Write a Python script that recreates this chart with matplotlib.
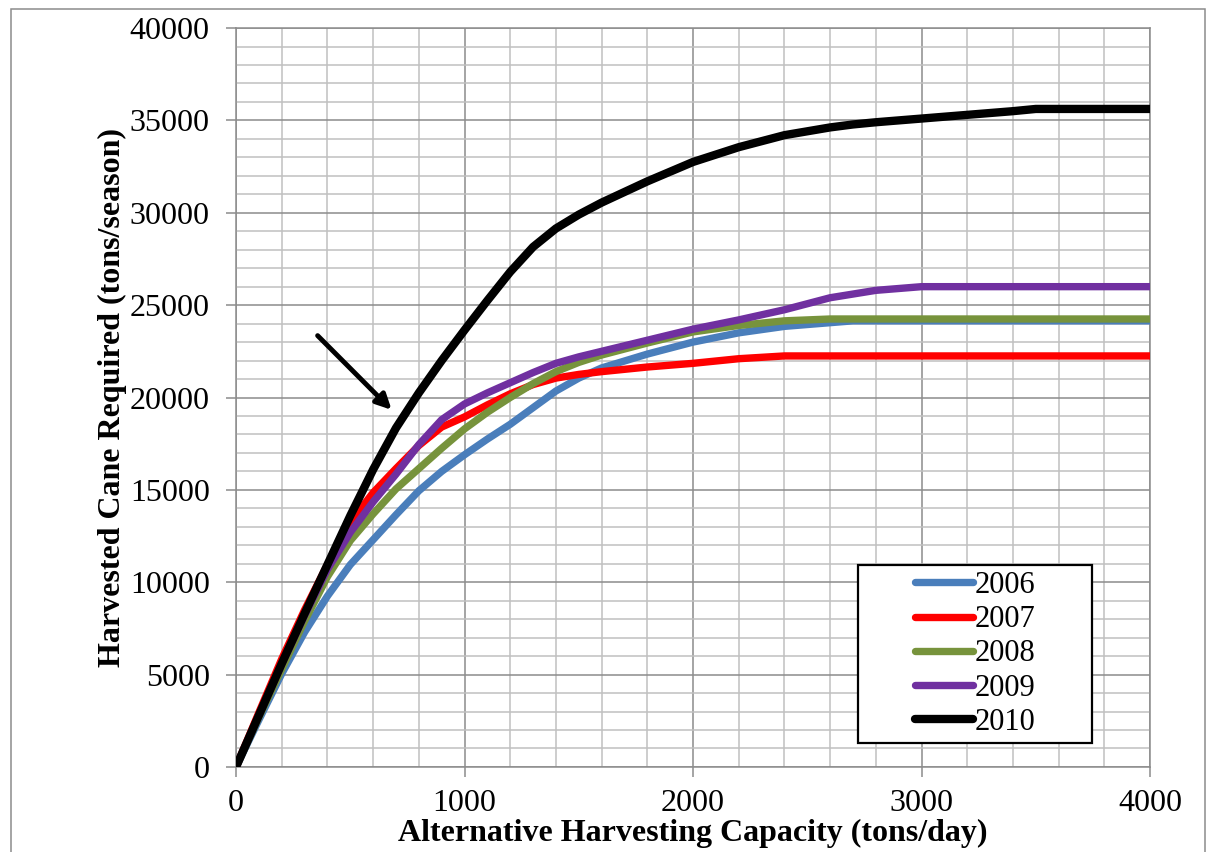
import matplotlib
matplotlib.use('Agg')
import matplotlib.pyplot as plt
from matplotlib.patches import Rectangle
from matplotlib.lines import Line2D
from matplotlib.ticker import MultipleLocator

plt.rcParams['font.family'] = ['Liberation Serif', 'DejaVu Serif']

# capacity (tons/day)
capacity = [0, 100, 200, 300, 400, 500, 600, 700, 800, 900, 1000, 1100, 1200, 1300, 1400,
            1500, 1600, 1800, 2000, 2200, 2400, 2600, 2700, 2800, 3000, 3200, 3400, 3500,
            3600, 3800, 4000]

cane_2006 = [0, 2550, 5050, 7300, 9250, 10950, 12300, 13650, 14950, 16000, 16900, 17750,
             18550, 19450, 20350, 21050, 21600, 22350, 23000, 23500, 23850, 24050, 24150,
             24150, 24150, 24150, 24150, 24150, 24150, 24150, 24150]
cane_2007 = [0, 2950, 5850, 8500, 10950, 13250, 14850, 16150, 17400, 18400, 18950, 19600,
             20200, 20700, 21050, 21250, 21400, 21650, 21850, 22100, 22250, 22250, 22250,
             22250, 22250, 22250, 22250, 22250, 22250, 22250, 22250]
cane_2008 = [0, 2700, 5300, 7900, 10300, 12250, 13700, 15050, 16150, 17250, 18300, 19200,
             20000, 20750, 21400, 21900, 22300, 22950, 23550, 23900, 24150, 24250, 24250,
             24250, 24250, 24250, 24250, 24250, 24250, 24250, 24250]
cane_2009 = [0, 2800, 5550, 8200, 10700, 12700, 14350, 15850, 17450, 18800, 19650, 20250,
             20800, 21350, 21850, 22200, 22500, 23100, 23700, 24200, 24750, 25400, 25600,
             25800, 26000, 26000, 26000, 26000, 26000, 26000, 26000]
cane_2010 = [0, 2800, 5600, 8300, 10950, 13600, 16100, 18350, 20250, 22000, 23650, 25250,
             26800, 28150, 29150, 29900, 30550, 31700, 32750, 33550, 34200, 34620, 34780,
             34900, 35100, 35300, 35500, 35620, 35620, 35620, 35620]

series = [
    ("2006", cane_2006, "#4A7EBB", 5.3),
    ("2007", cane_2007, "#FF0000", 5.3),
    ("2008", cane_2008, "#77933C", 5.3),
    ("2009", cane_2009, "#7030A0", 5.3),
    ("2010", cane_2010, "#000000", 6.0),
]

# arrow pointing at the 2010 curve (data coords)
arrow_tail = (357, 23350)
arrow_head = (681, 19330)

fig = plt.figure(figsize=(12.08, 8.52), dpi=100)
ax = fig.add_axes([0.1954, 0.0998, 0.7566, 0.8673])

for label, vals, color, lw in series:
    ax.plot(capacity, vals, color=color, lw=lw, solid_capstyle='round',
            solid_joinstyle='round', label=label, zorder=3)

ax.set_xlim(0, 4000)
ax.set_ylim(0, 40000)
ax.xaxis.set_major_locator(MultipleLocator(1000))
ax.xaxis.set_minor_locator(MultipleLocator(200))
ax.yaxis.set_major_locator(MultipleLocator(5000))
ax.yaxis.set_minor_locator(MultipleLocator(1000))

ax.grid(which='minor', color='#C0C0C0', lw=1.1, zorder=0)
ax.grid(which='major', color='#8C8C8C', lw=1.1, zorder=1)
ax.set_axisbelow(True)
for s in ax.spines.values():
    s.set_color('#8C8C8C')
    s.set_linewidth(1.1)

ax.tick_params(which='major', direction='out', length=7, width=1.1, color='#8C8C8C',
               labelsize=23, pad=9)
ax.tick_params(axis='y', which='major', pad=12)
ax.tick_params(which='minor', length=0)

ax.set_xlabel("Alternative Harvesting Capacity (tons/day)", fontsize=23, fontweight='bold')
ax.set_ylabel("Harvested Cane Required (tons/season)", fontsize=23, fontweight='bold')
ax.xaxis.set_label_coords(0.5, -0.07)
ax.yaxis.set_label_coords(-0.119, 0.5)

ax.annotate("", xy=arrow_head, xytext=arrow_tail,
            arrowprops=dict(arrowstyle='-|>,head_length=0.9,head_width=0.45',
                            color='black', lw=3.5, shrinkA=0, shrinkB=0), zorder=5)

# legend box
box = Rectangle((0.6805, 0.0325), 0.256, 0.2408, transform=ax.transAxes,
                facecolor='white', edgecolor='black', lw=1.6, zorder=6)
ax.add_patch(box)
handles = [Line2D([0], [0], color=c, lw=lw, solid_capstyle='round') for _, _, c, lw in series]
leg = ax.legend(handles, [s[0] for s in series], loc='center',
                bbox_to_anchor=(0.6805 + 0.128, 0.0325 + 0.1204), frameon=False,
                fontsize=22, handlelength=1.9, handletextpad=0.05, labelspacing=0.17,
                borderpad=0.1)
leg.set_zorder(7)

# outer frame of the figure
fig.add_artist(Rectangle((11 / 1208, -0.01), 1194 / 1208, 1 - 9 / 852 + 0.01,
                         transform=fig.transFigure, fill=False, edgecolor='#8C8C8C', lw=1.1))

fig.savefig("out.png", dpi=100)
